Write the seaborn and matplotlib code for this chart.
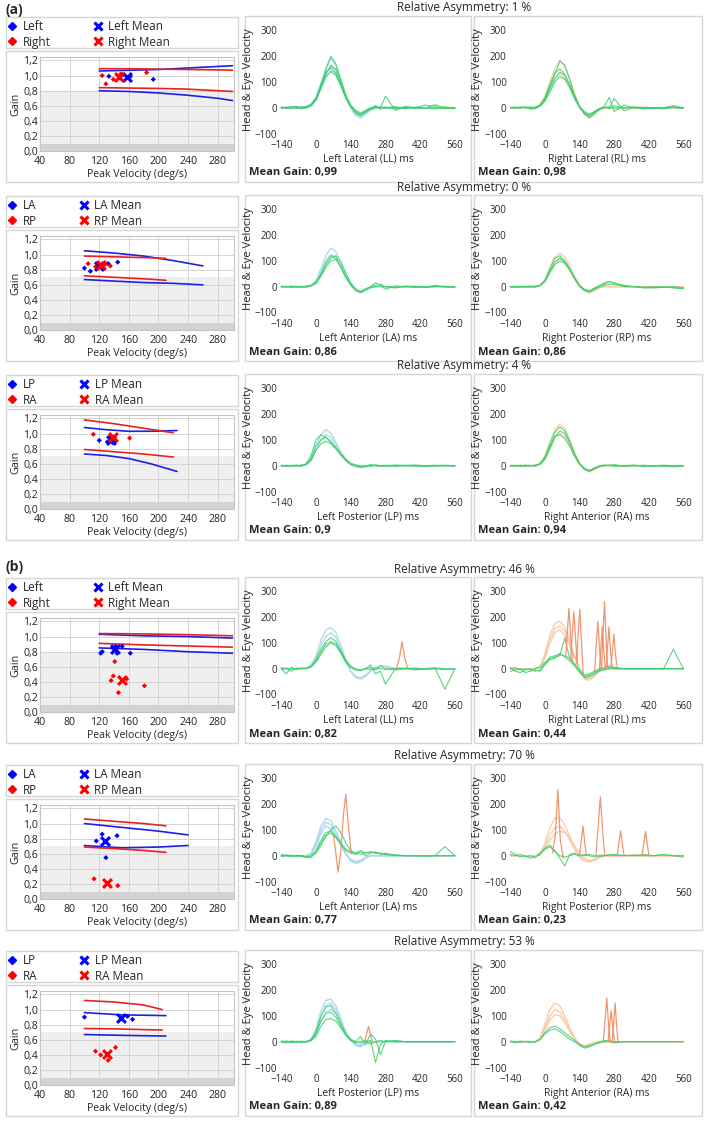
import matplotlib
matplotlib.use("Agg")
import matplotlib.pyplot as plt
from matplotlib.patches import Rectangle
from matplotlib.lines import Line2D
import pandas as pd
import seaborn as sns

# time base of the impulse traces (ms)
t_ms = [-140, -120, -100, -80, -60, -40, -20, 0, 20, 40, 60, 80, 100, 120, 140,
        160, 180, 200, 220, 240, 260, 280, 320, 360, 400, 440, 480, 520, 560]

# ---------------- (a) row 1 : lateral ----------------
a1_left_vel = [133, 152, 162, 193]
a1_left_gain = [0.99, 1.01, 0.99, 0.95]
a1_right_vel = [124, 129, 139, 149, 184]
a1_right_gain = [1.00, 0.89, 0.95, 1.02, 1.04]
a1_means = [(157, 0.98), (147, 0.98)]
a1_norm_vel = [120, 160, 200, 240, 280, 300]
a1_blue_hi = [1.06, 1.07, 1.08, 1.10, 1.12, 1.13]
a1_blue_lo = [0.80, 0.79, 0.77, 0.74, 0.70, 0.67]
a1_red_hi = [1.09, 1.09, 1.085, 1.08, 1.075, 1.07]
a1_red_lo = [0.84, 0.835, 0.83, 0.82, 0.80, 0.79]

a1_ll_head = [
    [0, 0, 0, 0, 0, 2, 12, 40, 95, 150, 190, 165, 105, 45, 0, -30, -40, -25, -10, -3, 0, 0, 0, 0, 0, 0, 0, 0, 0],
    [0, 0, 0, 0, 0, 0, 8, 30, 80, 130, 160, 145, 95, 40, 0, -25, -35, -20, -8, -2, 0, 0, 0, 0, 0, 0, 0, 0, 0],
    [0, 0, 0, 0, 0, 0, 6, 28, 72, 118, 145, 132, 88, 36, -2, -28, -38, -22, -8, -2, 0, 0, 0, 0, 0, 0, 0, 0, 0]]
a1_ll_eye = [
    [2, 0, 5, -3, 2, 4, 14, 38, 90, 140, 155, 135, 90, 40, 5, -15, -25, -15, -5, 0, 3, -2, 0, 2, -3, 1, -2, 0, -3],
    [0, 3, -2, 6, -5, 3, 10, 35, 85, 150, 200, 170, 110, 50, 10, -10, -20, -10, 0, 5, 0, 45, -10, 5, 0, 10, 5, -3, 0],
    [-2, 0, 0, 0, 3, 1, 9, 30, 75, 120, 140, 125, 85, 38, 5, -20, -30, -18, -5, 2, 0, 3, -5, 0, 2, 0, -5, 3, -2],
    [3, -3, 0, 4, 0, -2, 8, 32, 80, 130, 165, 150, 100, 45, 8, -18, -28, -12, -2, 8, -6, 0, 4, -3, 0, -2, 12, 0, -4]]
a1_rl_head = [
    [0, 0, 0, 0, 0, 2, 12, 45, 100, 150, 185, 160, 110, 50, 5, -25, -35, -20, -8, -2, 0, 0, 0, 0, 0, 0, 0, 0, 0],
    [0, 0, 0, 0, 0, 0, 8, 35, 80, 115, 130, 115, 80, 35, 0, -25, -35, -20, -8, -2, 0, 0, 0, 0, 0, 0, 0, 0, 0]]
a1_rl_eye = [
    [2, -2, 3, 0, -3, 0, 10, 40, 90, 135, 150, 130, 90, 40, 0, -20, -30, -15, -5, 0, 3, -2, 0, 2, -3, 0, -2, 0, -3],
    [0, 3, -2, 4, -5, -5, 8, 32, 80, 130, 180, 165, 110, 50, 5, -25, -40, -25, -8, 5, 40, -15, 10, 0, -5, 0, 0, 8, 0],
    [-2, 0, 2, 0, 3, 1, 6, 25, 60, 100, 120, 110, 78, 35, 3, -15, -25, -15, -3, 2, 0, 35, -12, 0, 2, 0, -5, 3, -2],
    [1, -1, 0, 2, -2, 0, 7, 30, 72, 112, 138, 125, 88, 40, 4, -22, -32, -18, -4, 3, -4, 8, -2, 3, 0, -3, 0, 2, -1]]

# ---------------- (a) row 2 : LA / RP ----------------
a2_left_vel = [100, 108, 118, 132, 145]
a2_left_gain = [0.82, 0.78, 0.84, 0.88, 0.90]
a2_right_vel = [105, 115, 122, 128, 135]
a2_right_gain = [0.88, 0.84, 0.86, 0.87, 0.85]
a2_means = [(120, 0.85), (122, 0.86)]
a2_blue_vel = [100, 140, 180, 220, 260]
a2_blue_hi = [1.05, 1.02, 0.98, 0.92, 0.85]
a2_blue_lo = [0.67, 0.65, 0.63, 0.62, 0.60]
a2_red_vel = [100, 140, 180, 210]
a2_red_hi = [0.98, 0.97, 0.96, 0.95]
a2_red_lo = [0.72, 0.70, 0.68, 0.66]

a2_la_head = [
    [0, 0, 0, 0, 0, 0, 5, 25, 70, 120, 150, 135, 95, 50, 12, -15, -25, -15, -5, 0, 0, 0, 0, 0, 0, 0, 0, 0, 0],
    [0, 0, 0, 0, 0, 0, 3, 18, 55, 100, 125, 115, 80, 40, 8, -12, -20, -12, -4, 0, 0, 0, 0, 0, 0, 0, 0, 0, 0]]
a2_la_eye = [
    [3, -2, 0, 2, -3, 0, 4, 15, 45, 85, 110, 120, 95, 55, 15, -10, -20, -10, -2, 0, 3, 0, -2, 0, 2, -3, 0, 2, -2],
    [0, 2, -3, 0, 2, -2, 3, 12, 40, 75, 100, 105, 80, 40, 10, -12, -18, -8, 0, 5, 10, 0, -5, 3, 0, -2, 5, 0, -2],
    [-2, 0, 3, -2, 0, 2, 5, 18, 50, 95, 120, 110, 75, 35, 5, -15, -22, -12, 0, 15, 5, -10, 3, 0, -3, 0, 2, -2, 0]]
a2_rp_head = [
    [0, 0, 0, 0, 0, 0, 5, 28, 75, 115, 130, 115, 80, 40, 5, -15, -25, -15, -5, 0, 0, 0, 0, 0, 0, 0, 0, 0, 0],
    [0, 0, 0, 0, 0, 0, 3, 20, 60, 95, 110, 100, 70, 35, 5, -12, -20, -12, -4, 0, 0, 0, 0, 0, 0, 0, 0, 0, 0]]
a2_rp_eye = [
    [2, -3, 0, 2, -2, 0, 6, 25, 70, 110, 120, 100, 70, 35, 5, -10, -15, -8, 0, 5, 10, 8, 5, 0, -2, 0, -3, 0, -5],
    [0, 2, -2, 0, 3, -2, 4, 20, 55, 85, 100, 90, 65, 30, 0, -15, -20, -10, 0, 10, 20, 15, 5, 0, -5, -3, 0, -5, -8],
    [-3, 0, 2, -2, 0, 3, 5, 22, 60, 95, 110, 95, 65, 30, 3, -12, -18, -5, 5, 15, 20, 12, 0, 0, -3, -5, -2, -3, -5]]

# ---------------- (a) row 3 : LP / RA ----------------
a3_left_vel = [120, 131, 135, 138, 142]
a3_left_gain = [0.91, 0.89, 0.93, 0.88, 0.90]
a3_right_vel = [112, 135, 140, 161]
a3_right_gain = [0.99, 0.95, 0.94, 0.94]
a3_means = [(136, 0.91), (138, 0.95)]
a3_blue_vel = [100, 130, 160, 190, 225]
a3_blue_hi = [1.08, 1.05, 1.03, 1.03, 1.04]
a3_blue_lo = [0.73, 0.71, 0.67, 0.60, 0.50]
a3_red_vel = [100, 140, 180, 220]
a3_red_hi = [1.18, 1.13, 1.07, 1.01]
a3_red_lo = [0.79, 0.76, 0.73, 0.69]

a3_lp_head = [
    [0, 0, 0, 0, 0, 5, 30, 80, 120, 140, 125, 90, 55, 25, 5, -5, -8, -5, 0, 0, 0, 0, 0, 0, 0, 0, 0, 0, 0],
    [0, 0, 0, 0, 0, 3, 20, 60, 100, 120, 110, 80, 50, 22, 5, -3, -5, -3, 0, 0, 0, 0, 0, 0, 0, 0, 0, 0, 0]]
a3_lp_eye = [
    [0, -3, 2, 0, -2, 8, 40, 100, 120, 110, 90, 70, 45, 25, 10, 3, 0, -3, 0, 2, 0, -2, 0, 2, 0, -3, 0, 2, 0],
    [2, 0, -2, 3, 0, 5, 25, 75, 100, 110, 95, 70, 45, 20, 5, 0, -5, -3, 5, 0, -2, 0, 3, 0, -2, 0, 2, 0, -3],
    [-2, 2, 0, -2, 3, 4, 20, 60, 85, 95, 85, 65, 40, 20, 5, 0, -3, 0, -2, 3, 0, 2, -2, 0, 3, 0, -2, 0, 0]]
a3_ra_head = [
    [0, 0, 0, 0, 0, 2, 10, 38, 90, 140, 160, 145, 100, 50, 10, -15, -25, -15, -5, 0, 0, 0, 0, 0, 0, 0, 0, 0, 0],
    [0, 0, 0, 0, 0, 0, 6, 28, 70, 110, 125, 115, 80, 40, 5, -12, -20, -12, -4, 0, 0, 0, 0, 0, 0, 0, 0, 0, 0]]
a3_ra_eye = [
    [2, -2, 0, 3, -2, 0, 8, 35, 85, 130, 150, 135, 95, 45, 8, -15, -22, -12, -3, 0, 2, -2, 0, 3, -2, 0, -3, 0, -2],
    [0, 2, -3, 0, 2, -2, 5, 25, 65, 110, 135, 125, 90, 45, 8, -10, -20, -10, 0, 3, 0, 5, -3, 0, 2, -2, 0, -5, 0],
    [-2, 0, 2, -2, 0, 2, 6, 30, 75, 115, 120, 105, 75, 35, 5, -12, -18, -8, -2, 0, 3, 0, -2, 0, -3, 0, 2, 0, -3]]

# ---------------- (b) row 4 : lateral ----------------
b1_left_vel = [122, 124, 138, 142, 144, 151, 162]
b1_left_gain = [0.78, 0.80, 0.85, 0.87, 0.78, 0.87, 0.78]
b1_right_vel = [141, 139, 136, 146, 157, 181]
b1_right_gain = [0.67, 0.48, 0.42, 0.26, 0.44, 0.35]
b1_means = [(141, 0.83), (151, 0.43)]
b1_norm_vel = [120, 180, 240, 300]
b1_blue_hi = [1.03, 1.01, 1.00, 0.98]
b1_blue_lo = [0.85, 0.83, 0.80, 0.78]
b1_red_hi = [1.04, 1.035, 1.025, 1.01]
b1_red_lo = [0.91, 0.89, 0.875, 0.86]

b1_ll_head = [
    [0, 0, 0, 0, 0, 2, 15, 50, 110, 150, 160, 140, 90, 35, -10, -35, -40, -30, -10, 5, 12, 10, 0, 0, 0, 0, 0, 0, 0],
    [0, 0, 0, 0, 0, 0, 10, 40, 90, 125, 140, 120, 75, 25, -10, -30, -35, -25, -8, 5, 10, 8, 0, 0, 0, 0, 0, 0, 0]]
b1_ll_eye = [
    [0, -20, 5, -3, 2, 0, 10, 35, 75, 105, 120, 105, 70, 35, 10, 0, -5, 0, 5, -5, 10, 0, -5, 0, 3, -2, 0, -3, 0],
    [5, 0, -10, 3, 0, 2, 8, 30, 65, 95, 105, 95, 65, 30, 5, -5, -8, 0, 15, -20, -10, -60, 0, 3, -5, 0, 2, -80, 0],
    [-3, 2, 0, -2, 3, 0, 6, 25, 55, 85, 100, 90, 60, 25, 5, -3, -5, 0, -3, 2, 0, -3, 2, 0, -2, 0, 3, 0, -2]]
b1_ll_sacc_t = [[325, 337, 347, 357, 370]]
b1_ll_sacc_v = [[0, 45, 105, 45, 0]]

b1_rl_head = [
    [0, 0, 0, 0, 0, 0, 10, 60, 130, 175, 185, 160, 110, 50, 0, -40, -45, -30, -10, 0, 0, 0, 0, 0, 0, 0, 0, 0, 0],
    [0, 0, 0, 0, 0, 0, 8, 50, 115, 155, 165, 145, 100, 45, 0, -35, -40, -25, -8, 0, 0, 0, 0, 0, 0, 0, 0, 0, 0],
    [0, 0, 0, 0, 0, 0, 5, 40, 100, 140, 150, 130, 90, 40, 0, -30, -35, -20, -5, 0, 0, 0, 0, 0, 0, 0, 0, 0, 0]]
b1_rl_eye = [
    [5, -10, -15, -5, 0, -10, -5, 20, 45, 50, 55, 50, 40, 20, -10, -30, -25, -15, -5, 0, 5, 0, 0, 0, 0, 0, 0, 0, 0],
    [-10, -5, 0, -15, -10, -5, -10, 15, 35, 40, 60, 45, 30, 10, -15, -35, -30, -20, -10, -5, 0, 5, 0, 0, 0, 0, 0, 75, 0],
    [0, 5, -5, 0, -5, 0, 5, 25, 40, 45, 50, 120, 40, 15, -5, -25, -20, -10, 0, 5, 10, 5, 0, 0, 0, 0, 0, 0, 0]]
b1_rl_sacc_t = [[84, 90, 97, 104, 111], [104, 110, 117, 124, 131], [128, 134, 141, 148, 155],
                [201, 207, 214, 221, 228], [220, 226, 232, 238, 244], [229, 235, 241, 247, 253],
                [247, 253, 259, 265, 271], [267, 273, 279, 285, 291]]
b1_rl_sacc_v = [[45, 140, 234, 120, 30], [40, 130, 221, 110, 15], [25, 130, 230, 100, -25],
                [-10, 90, 184, 80, 0], [-5, 80, 162, 70, 5], [0, 140, 260, 120, 5],
                [0, 80, 162, 70, 10], [5, 70, 134, 60, 10]]

# ---------------- (b) row 5 : LA / RP ----------------
b2_left_vel = [116, 124, 129, 144]
b2_left_gain = [0.77, 0.86, 0.55, 0.84]
b2_right_vel = [113, 145]
b2_right_gain = [0.27, 0.18]
b2_means = [(128, 0.77), (130, 0.22)]
b2_blue_vel = [100, 150, 200, 240]
b2_blue_hi = [1.00, 0.95, 0.90, 0.85]
b2_blue_lo = [0.71, 0.68, 0.69, 0.71]
b2_red_vel = [100, 140, 180, 210]
b2_red_hi = [1.06, 1.03, 1.00, 0.97]
b2_red_lo = [0.69, 0.67, 0.645, 0.62]

b2_la_head = [
    [0, 0, 0, 0, 0, 0, 10, 55, 115, 145, 135, 95, 50, 10, -20, -30, -25, -10, 0, 0, 0, 0, 0, 0, 0, 0, 0, 0, 0],
    [0, 0, 0, 0, 0, 0, 8, 45, 100, 130, 120, 85, 45, 8, -18, -25, -20, -8, 0, 0, 0, 0, 0, 0, 0, 0, 0, 0, 0],
    [0, 0, 0, 0, 0, 0, 5, 35, 85, 115, 105, 75, 40, 5, -15, -22, -18, -6, 0, 0, 0, 0, 0, 0, 0, 0, 0, 0, 0]]
b2_la_eye = [
    [5, 0, -3, 2, 0, -5, 0, 20, 60, 90, 95, 75, 50, 25, 15, 10, 20, 10, 15, 10, 10, 5, 3, 0, 0, 0, 0, 0, 0],
    [0, 3, 0, -3, 2, -5, -5, 10, 40, 75, 100, 115, 90, 50, 20, 10, 5, 12, 15, 10, 8, 5, 2, 0, 0, -2, 0, 35, 0],
    [-3, 0, 2, 0, -3, -8, -5, 15, 50, 80, 88, 70, 45, 20, 10, 5, 15, 0, 10, 15, 5, 10, 0, 0, 0, 0, 0, 0, 0]]
b2_la_sacc_t = [[70, 80, 89, 100, 110, 120, 130, 142]]
b2_la_sacc_v = [[85, 10, -64, 20, 150, 238, 120, 10]]

b2_rp_head = [
    [0, 0, 0, 0, 0, 0, 10, 50, 110, 145, 148, 120, 75, 30, -5, -20, -25, -18, -8, 0, 0, 0, 0, 0, 0, 0, 0, 0, 0],
    [0, 0, 0, 0, 0, 0, 5, 35, 80, 108, 113, 95, 60, 25, -5, -18, -22, -15, -5, 0, 0, 0, 0, 0, 0, 0, 0, 0, 0],
    [0, 0, 0, 0, 0, 0, 3, 25, 60, 85, 95, 90, 70, 40, 10, -10, -20, -15, -5, 0, 0, 0, 0, 0, 0, 0, 0, 0, 0]]
b2_rp_eye = [
    [15, 5, -5, 0, -10, -5, 5, 30, 40, 20, -10, -40, 5, 10, 0, 5, 0, -5, 3, 0, 5, 0, 2, 0, 5, 0, 3, 0, 0],
    [5, 0, 5, -5, 0, -8, 10, 25, 35, 15, 0, -5, 0, 5, 0, 0, 5, 0, -3, 0, 3, 5, 0, 3, 0, 0, 5, 0, -5]]
b2_rp_sacc_t = [[30, 42, 52, 62, 74], [140, 147, 154, 161, 168], [206, 215, 224, 233, 242],
                [292, 299, 306, 313, 320], [393, 400, 407, 414, 421]]
b2_rp_sacc_v = [[10, 80, 256, 60, -10], [0, 60, 115, 50, 0], [0, 110, 228, 100, 0],
                [0, 50, 96, 45, 0], [0, 50, 94, 45, 0]]

# ---------------- (b) row 6 : LP / RA ----------------
b3_left_vel = [100, 150, 158, 165]
b3_left_gain = [0.90, 0.88, 0.91, 0.87]
b3_right_vel = [115, 122, 132, 142]
b3_right_gain = [0.45, 0.40, 0.33, 0.50]
b3_means = [(150, 0.89), (130, 0.41)]
b3_blue_vel = [100, 150, 210]
b3_blue_hi = [0.96, 0.93, 0.92]
b3_blue_lo = [0.67, 0.66, 0.65]
b3_red_vel = [100, 140, 180, 205]
b3_red_hi = [1.12, 1.10, 1.06, 1.00]
b3_red_lo = [0.75, 0.745, 0.735, 0.73]

b3_lp_head = [
    [0, 0, 0, 0, 0, 0, 10, 50, 120, 160, 165, 140, 90, 40, 5, -15, -20, -10, 0, 0, 0, 0, 0, 0, 0, 0, 0, 0, 0],
    [0, 0, 0, 0, 0, 0, 8, 40, 100, 140, 150, 125, 80, 35, 5, -12, -15, -8, 0, 0, 0, 0, 0, 0, 0, 0, 0, 0, 0],
    [0, 0, 0, 0, 0, 0, 5, 30, 80, 115, 125, 110, 75, 35, 5, -10, -12, -6, 0, 0, 0, 0, 0, 0, 0, 0, 0, 0, 0]]
b3_lp_eye = [
    [0, -5, 3, 0, -3, 0, 8, 40, 100, 135, 140, 110, 70, 30, 10, 0, -5, 0, 5, -80, -10, 5, 0, 0, 0, 0, 0, 0, 0],
    [3, 0, -3, 2, 0, -2, 5, 30, 80, 110, 115, 95, 60, 25, 5, 0, 20, -10, 30, 10, -50, 0, 5, 0, 0, 0, 0, 0, 0],
    [-2, 3, 0, -3, 2, 0, 4, 20, 60, 85, 90, 80, 55, 25, 5, -5, 0, 5, -10, 0, 5, 0, 3, 0, 0, 0, 0, 0, 0]]
b3_lp_sacc_t = [[196, 204, 212, 220, 228]]
b3_lp_sacc_v = [[0, 30, 60, 25, 0]]

b3_ra_head = [
    [0, 0, 0, 0, 0, 0, 15, 70, 125, 150, 140, 100, 55, 15, -10, -20, -15, -5, 0, 0, 0, 0, 0, 0, 0, 0, 0, 0, 0],
    [0, 0, 0, 0, 0, 0, 10, 55, 100, 125, 115, 85, 45, 10, -10, -18, -12, -5, 0, 0, 0, 0, 0, 0, 0, 0, 0, 0, 0],
    [0, 0, 0, 0, 0, 0, 8, 45, 85, 105, 100, 75, 40, 10, -8, -15, -10, -3, 0, 0, 0, 0, 0, 0, 0, 0, 0, 0, 0]]
b3_ra_eye = [
    [0, -5, 3, 0, -3, 0, 10, 35, 55, 60, 50, 35, 20, 5, -10, -20, -15, -10, -5, 0, 5, 0, 0, 0, 0, 0, 0, 0, 0],
    [3, 0, -3, 2, 0, -2, 8, 30, 45, 50, 40, 25, 10, 0, -15, -25, -20, -10, 0, 5, 0, -5, 0, 0, 0, 0, 0, 0, 0]]
b3_ra_sacc_t = [[236, 243, 250, 257, 264], [255, 261, 268, 275, 282], [272, 278, 284, 290, 296]]
b3_ra_sacc_v = [[0, 80, 170, 70, 0], [0, 60, 120, 50, 0], [0, 70, 150, 60, 0]]

rows = [
    dict(top=17, names=("Left", "Right"), asym="1 %", shade=0.8,
         left=(a1_left_vel, a1_left_gain), right=(a1_right_vel, a1_right_gain), means=a1_means,
         blue=(a1_norm_vel, a1_blue_hi, a1_blue_lo), red=(a1_norm_vel, a1_red_hi, a1_red_lo),
         panels=[("Left Lateral (LL) ms", "0,99", a1_ll_head, a1_ll_eye, [], []),
                 ("Right Lateral (RL) ms", "0,98", a1_rl_head, a1_rl_eye, [], [])]),
    dict(top=196, names=("LA", "RP"), asym="0 %", shade=0.7,
         left=(a2_left_vel, a2_left_gain), right=(a2_right_vel, a2_right_gain), means=a2_means,
         blue=(a2_blue_vel, a2_blue_hi, a2_blue_lo), red=(a2_red_vel, a2_red_hi, a2_red_lo),
         panels=[("Left Anterior (LA) ms", "0,86", a2_la_head, a2_la_eye, [], []),
                 ("Right Posterior (RP) ms", "0,86", a2_rp_head, a2_rp_eye, [], [])]),
    dict(top=375, names=("LP", "RA"), asym="4 %", shade=0.7,
         left=(a3_left_vel, a3_left_gain), right=(a3_right_vel, a3_right_gain), means=a3_means,
         blue=(a3_blue_vel, a3_blue_hi, a3_blue_lo), red=(a3_red_vel, a3_red_hi, a3_red_lo),
         panels=[("Left Posterior (LP) ms", "0,9", a3_lp_head, a3_lp_eye, [], []),
                 ("Right Anterior (RA) ms", "0,94", a3_ra_head, a3_ra_eye, [], [])]),
    dict(top=578, names=("Left", "Right"), asym="46 %", shade=0.8,
         left=(b1_left_vel, b1_left_gain), right=(b1_right_vel, b1_right_gain), means=b1_means,
         blue=(b1_norm_vel, b1_blue_hi, b1_blue_lo), red=(b1_norm_vel, b1_red_hi, b1_red_lo),
         panels=[("Left Lateral (LL) ms", "0,82", b1_ll_head, b1_ll_eye, b1_ll_sacc_t, b1_ll_sacc_v),
                 ("Right Lateral (RL) ms", "0,44", b1_rl_head, b1_rl_eye, b1_rl_sacc_t, b1_rl_sacc_v)]),
    dict(top=765, names=("LA", "RP"), asym="70 %", shade=0.7,
         left=(b2_left_vel, b2_left_gain), right=(b2_right_vel, b2_right_gain), means=b2_means,
         blue=(b2_blue_vel, b2_blue_hi, b2_blue_lo), red=(b2_red_vel, b2_red_hi, b2_red_lo),
         panels=[("Left Anterior (LA) ms", "0,77", b2_la_head, b2_la_eye, b2_la_sacc_t, b2_la_sacc_v),
                 ("Right Posterior (RP) ms", "0,23", b2_rp_head, b2_rp_eye, b2_rp_sacc_t, b2_rp_sacc_v)]),
    dict(top=951, names=("LP", "RA"), asym="53 %", shade=0.7,
         left=(b3_left_vel, b3_left_gain), right=(b3_right_vel, b3_right_gain), means=b3_means,
         blue=(b3_blue_vel, b3_blue_hi, b3_blue_lo), red=(b3_red_vel, b3_red_hi, b3_red_lo),
         panels=[("Left Posterior (LP) ms", "0,89", b3_lp_head, b3_lp_eye, b3_lp_sacc_t, b3_lp_sacc_v),
                 ("Right Anterior (RA) ms", "0,42", b3_ra_head, b3_ra_eye, b3_ra_sacc_t, b3_ra_sacc_v)]),
]

sns.set_style("white")
plt.rcParams["font.family"] = ["Open Sans", "DejaVu Sans"]

W, H = 709, 1121
fig = plt.figure(figsize=(W / 100, H / 100), dpi=100)

HEAD_COLORS = ["#a9d8f0", "#f9c9a3"]
EYE_COLOR = "#3ecf6a"
SACC_COLOR = "#f08a62"
BORDER = "#d6d6d6"


def add_ax(x0, y0, x1, y1):
    return fig.add_axes([x0 / W, 1 - y1 / H, (x1 - x0) / W, (y1 - y0) / H])


def add_box(x0, y0, x1, y1):
    fig.add_artist(Rectangle((x0 / W, 1 - y1 / H), (x1 - x0) / W, (y1 - y0) / H,
                             transform=fig.transFigure, fc="white", ec=BORDER, lw=1.0, zorder=-5))


def ftext(x, y, s, **kw):
    fig.text(x / W, 1 - y / H, s, **kw)


def traces_frame(traces):
    recs = []
    for i, tr in enumerate(traces):
        for t, v in zip(t_ms, tr):
            recs.append((i, t, v))
    return pd.DataFrame(recs, columns=["trace", "t", "v"])


def spikes_frame(ts, vs):
    recs = []
    for i, (tt, vv) in enumerate(zip(ts, vs)):
        for t, v in zip(tt, vv):
            recs.append((i, t, v))
    return pd.DataFrame(recs, columns=["trace", "t", "v"])


def draw_gain(ax, r):
    ax.set_facecolor("white")
    ax.axhspan(0, 0.1, color="#d3d3d3", lw=0, zorder=0)
    ax.axhspan(0.1, r["shade"], color="#efefef", lw=0, zorder=0)
    vel, hi, lo = r["blue"]
    sns.lineplot(x=vel, y=hi, color="#1f1fe6", lw=1.2, ax=ax, estimator=None, sort=False, zorder=3)
    sns.lineplot(x=vel, y=lo, color="#1f1fe6", lw=1.2, ax=ax, estimator=None, sort=False, zorder=3)
    vel, hi, lo = r["red"]
    sns.lineplot(x=vel, y=hi, color="#e62222", lw=1.2, ax=ax, estimator=None, sort=False, zorder=3)
    sns.lineplot(x=vel, y=lo, color="#e62222", lw=1.2, ax=ax, estimator=None, sort=False, zorder=3)
    sns.scatterplot(x=r["left"][0], y=r["left"][1], marker="D", s=7, color="#0000ff",
                    edgecolor="none", ax=ax, zorder=4)
    sns.scatterplot(x=r["right"][0], y=r["right"][1], marker="D", s=7, color="#ff0000",
                    edgecolor="none", ax=ax, zorder=4)
    (mlx, mly), (mrx, mry) = r["means"]
    sns.scatterplot(x=[mlx], y=[mly], marker="x", s=40, color="#0000ff", linewidth=2.2, ax=ax, zorder=5)
    sns.scatterplot(x=[mrx], y=[mry], marker="x", s=40, color="#ff0000", linewidth=2.2, ax=ax, zorder=5)
    ax.set_xlim(40, 302)
    ax.set_ylim(0, 1.245)
    ax.set_xticks([40, 80, 120, 160, 200, 240, 280])
    yt = [0, 0.2, 0.4, 0.6, 0.8, 1.0, 1.2]
    ax.set_yticks(yt)
    ax.set_yticklabels([f"{v:.1f}".replace(".", ",") for v in yt])
    ax.grid(True, color="#d4d4d4", lw=0.7, zorder=1)
    ax.set_axisbelow(True)
    ax.tick_params(axis="y", length=0, labelsize=7.6, pad=1.5, colors="#222222")
    ax.tick_params(axis="x", length=0, labelsize=7.6, pad=3.5, colors="#222222")
    for sp in ax.spines.values():
        sp.set_color("#c4c4c4")
        sp.set_linewidth(0.8)
    ax.set_ylabel("Gain", fontsize=7.8, labelpad=1)
    ax.set_xlabel("Peak Velocity (deg/s)", fontsize=7.6, labelpad=1)


def draw_velocity(ax, side, panel):
    xlabel, mg, head, eye, st, sv = panel
    sns.lineplot(data=traces_frame(head), x="t", y="v", units="trace", estimator=None,
                 color=HEAD_COLORS[side], lw=1.0, alpha=0.9, ax=ax)
    sns.lineplot(data=traces_frame(eye), x="t", y="v", units="trace", estimator=None,
                 color=EYE_COLOR, lw=0.8, alpha=0.85, ax=ax)
    if st:
        sns.lineplot(data=spikes_frame(st, sv), x="t", y="v", units="trace", estimator=None,
                     color=SACC_COLOR, lw=0.9, alpha=0.9, ax=ax)
    ax.set_xlim(-150, 570)
    ax.set_ylim(-100, 320)
    ax.set_xticks([-140, 0, 140, 280, 420, 560])
    ax.set_yticks([-100, 0, 100, 200, 300])
    for sp in ax.spines.values():
        sp.set_visible(False)
    ax.tick_params(axis="y", length=0, labelsize=7, pad=1)
    ax.tick_params(axis="x", length=3, width=0.8, direction="out", labelsize=7, pad=1.5, color="#333333")
    ax.set_facecolor("none")
    ax.set_ylabel("Head & Eye Velocity", fontsize=8, labelpad=1)
    ax.set_xlabel(xlabel, fontsize=7.4, labelpad=2)


for r in rows:
    L = r["top"]
    # left column: legend box + gain plot
    add_box(6, L, 238, L + 31)
    add_box(6, L + 34, 238, L + 165)
    gax = add_ax(40, L + 40, 234, L + 134.3)
    draw_gain(gax, r)
    n1, n2 = r["names"]
    handles = [Line2D([], [], marker="D", ls="", color="#0000ff", ms=3.6, label=n1),
               Line2D([], [], marker="D", ls="", color="#ff0000", ms=3.6, label=n2),
               Line2D([], [], marker="x", ls="", color="#0000ff", ms=6, mew=2.2, label=n1 + " Mean"),
               Line2D([], [], marker="x", ls="", color="#ff0000", ms=6, mew=2.2, label=n2 + " Mean")]
    fig.legend(handles=handles, ncol=2, loc="upper left", bbox_to_anchor=(6 / W, 1 - (L + 2) / H),
               frameon=False, fontsize=8.5, handlelength=0.8, handletextpad=0.5,
               columnspacing=3.6, labelspacing=0.2, borderaxespad=0, borderpad=0.1)

    # right part: asymmetry title + two impulse panels
    ftext(464, L - 9, "Relative Asymmetry: " + r["asym"], ha="center", va="center", fontsize=8.5)
    for side, (bx0, bx1, zero, scale) in enumerate([(245, 471, 316, 0.248), (474, 702, 545, 0.247)]):
        add_box(bx0, L - 1, bx1, L + 165)
        vax = add_ax(zero - 150 * scale, L + 116.5 - 420 * 0.258, zero + 570 * scale, L + 116.5)
        draw_velocity(vax, side, r["panels"][side])
        ftext(bx0 + 4, L + 156, "Mean Gain: " + r["panels"][side][1], ha="left", va="center",
              fontsize=8, fontweight="bold")

ftext(5, 10, "(a)", ha="left", va="center", fontsize=10, fontweight="bold")
ftext(5, 567, "(b)", ha="left", va="center", fontsize=10, fontweight="bold")

fig.savefig("out.png", dpi=100, facecolor="white")
